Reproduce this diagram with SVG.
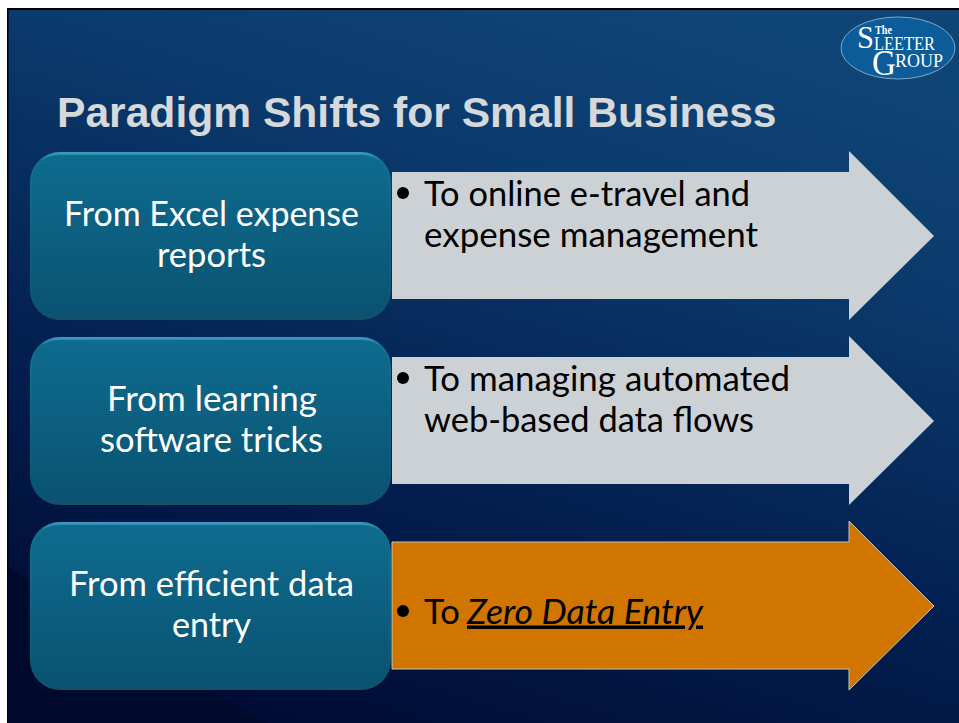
<svg xmlns="http://www.w3.org/2000/svg" width="959" height="723" viewBox="0 0 959 723">
<defs>
<linearGradient id="bg" x1="0.3" y1="1" x2="0.7" y2="0"><stop offset="0" stop-color="#000c34"/><stop offset="0.35" stop-color="#031f50"/><stop offset="0.75" stop-color="#0b3a6c"/><stop offset="1" stop-color="#0f4575"/></linearGradient>
<linearGradient id="box" x1="0" y1="0" x2="0" y2="1"><stop offset="0" stop-color="#0e6c8f"/><stop offset="1" stop-color="#0a5271"/></linearGradient>
<linearGradient id="rim" x1="0" y1="0" x2="0" y2="1"><stop offset="0" stop-color="#3f9cc4"/><stop offset="0.05" stop-color="#12708f"/><stop offset="0.95" stop-color="#0c5573"/><stop offset="1" stop-color="#174f66"/></linearGradient>
<polygon id="arrow" points="392,172 849,172 849,151 934,236 849,320 849,299 392,299"/>
<g id="rb"><rect x="30" y="152" width="361" height="168" rx="30" fill="url(#rim)"/><rect x="32" y="155" width="357" height="162" rx="27" fill="url(#box)"/></g>
</defs>
<style>
.w{font-family:Lato,"Open Sans",sans-serif;font-size:34px;fill:#fff}
.k{font-family:Lato,"Open Sans",sans-serif;font-size:34.5px;fill:#000}
.l{font-family:"Liberation Serif",serif;fill:#fff}
</style>
<rect width="959" height="723" fill="#fff"/>
<rect x="7" y="8" width="952" height="715" fill="url(#bg)"/>
<rect x="7" y="8" width="952" height="2" fill="#000"/>
<rect x="7" y="8" width="1.5" height="715" fill="#000"/>
<polygon points="8.500,566 110,640 268,723 8.500,723" fill="#000a2c"/>
<g id="logo">
<ellipse cx="898" cy="48" rx="57" ry="31" fill="#0c5c9a" stroke="#7fa6c8" stroke-width="1"/>
<text class="l" x="857" y="48" font-size="32" textLength="17" lengthAdjust="spacingAndGlyphs">S</text>
<text class="l" x="875" y="34" font-size="13" font-weight="bold" textLength="17" lengthAdjust="spacingAndGlyphs">The</text>
<text class="l" x="874" y="50" font-size="19" textLength="61" lengthAdjust="spacingAndGlyphs">LEETER</text>
<text class="l" x="872" y="75" font-size="35" textLength="24" lengthAdjust="spacingAndGlyphs">G</text>
<text class="l" x="895" y="67" font-size="19" textLength="48" lengthAdjust="spacingAndGlyphs">ROUP</text>
</g>
<text id="title" x="57" y="127" font-family="Liberation Sans,Arial,sans-serif" font-size="42.6" font-weight="bold" fill="#d6d9dc">Paradigm Shifts for Small Business</text>
<g id="connectors">
<use href="#arrow" fill="#ccd1d5"/>
<use href="#arrow" y="185" fill="#ccd1d5"/>
<use href="#arrow" y="370" fill="#cf7500" stroke="#c9c4b8" stroke-width="1"/>
</g>
<g id="node1"><use href="#rb"/>
<text class="w" x="64" y="225.500" textLength="295" lengthAdjust="spacingAndGlyphs">From Excel expense</text><text class="w" x="157" y="266.500" textLength="109" lengthAdjust="spacingAndGlyphs">reports</text></g>
<g id="node2"><use href="#rb" y="185"/>
<text class="w" x="107" y="410.500" textLength="210" lengthAdjust="spacingAndGlyphs">From learning</text><text class="w" x="100" y="451.500" textLength="223" lengthAdjust="spacingAndGlyphs">software tricks</text></g>
<g id="node3"><use href="#rb" y="370"/>
<text class="w" x="69" y="595.500" textLength="285" lengthAdjust="spacingAndGlyphs">From efficient data</text><text class="w" x="172" y="636.500" textLength="79" lengthAdjust="spacingAndGlyphs">entry</text></g>
<g id="target1"><circle cx="403" cy="193" r="6"/>
<text class="k" x="424" y="205.500" textLength="326" lengthAdjust="spacingAndGlyphs">To online e-travel and</text><text class="k" x="424" y="246.500" textLength="334" lengthAdjust="spacingAndGlyphs">expense management</text></g>
<g id="target2"><circle cx="403" cy="378" r="6"/>
<text class="k" x="424" y="390.500" textLength="366" lengthAdjust="spacingAndGlyphs">To managing automated</text><text class="k" x="424" y="431.500" textLength="330" lengthAdjust="spacingAndGlyphs">web-based data flows</text></g>
<g id="target3"><circle cx="403" cy="611" r="6"/>
<text class="k" x="424" y="623.500">To</text>
<text class="k" x="467" y="623.500" font-style="italic" style="text-decoration:underline;text-decoration-thickness:2.500px" textLength="236" lengthAdjust="spacingAndGlyphs">Zero Data Entry</text></g>
</svg>
